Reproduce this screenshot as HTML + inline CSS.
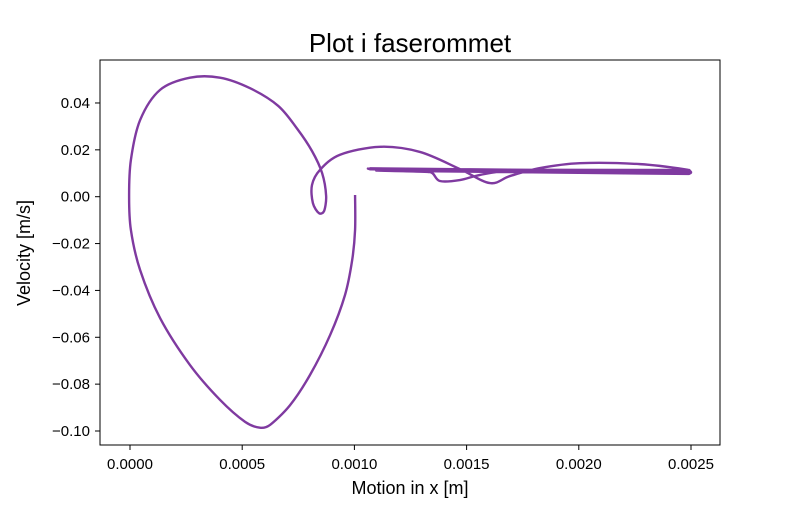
<!DOCTYPE html>
<html><head><meta charset="utf-8"><style>
body{margin:0;background:#fff;font-family:"Liberation Sans",sans-serif}
</style></head><body>
<svg width="800" height="500">
<rect width="800" height="500" fill="#fff"/>
<text x="410" y="52" font-size="26" text-anchor="middle" font-family="Liberation Sans">Plot i faserommet</text>
<g id="axes"></g>
<path id="curve" fill="none" stroke="#7f3aa0" stroke-width="2.4" stroke-linejoin="round"/>
<rect x="100" y="60" width="620" height="385" fill="none" stroke="#000" stroke-width="1"/>
<text x="410" y="494" font-size="18" text-anchor="middle">Motion in x [m]</text>
<text transform="translate(30,253) rotate(-90)" font-size="18" text-anchor="middle">Velocity [m/s]</text>
</svg>
<script>
const xTicks=[0,0.0005,0.001,0.0015,0.002,0.0025];
const xTickLabels=["0.0000","0.0005","0.0010","0.0015","0.0020","0.0025"];
const yTicks=[0.04,0.02,0,-0.02,-0.04,-0.06,-0.08,-0.10];
const yTickLabels=["0.04","0.02","0.00","−0.02","−0.04","−0.06","−0.08","−0.10"];
const xs=[0.001003,0.001003,0.00099,0.000958,0.000892,0.000802,0.000713,0.000624,0.000579,0.000513,0.000401,0.000267,0.000134,0.000045,0.000004,-0.000004,0.000004,0.000045,0.000134,0.000267,0.000401,0.000535,0.000660,0.000745,0.000811,0.000856,0.000874,0.000865,0.000842,0.000815,0.000811,0.000847,0.000936,0.001114,0.001292,0.00147,0.001604,0.001693,0.001827,0.002005,0.002273,0.00248,0.002495,0.00249,0.00107,0.00106,0.00107,0.002495,0.0025,0.00249,0.001114,0.001337,0.001381,0.00147,0.00156,0.001693,0.00249,0.002495,0.00249,0.00107,0.00107,0.00249,0.002495,0.00249,0.0012,0.0012,0.00249,0.002495,0.00249];
const ys=[0.0007,-0.0142,-0.0271,-0.0420,-0.0590,-0.0761,-0.0890,-0.0974,-0.0986,-0.0961,-0.0867,-0.0718,-0.0518,-0.0313,-0.0142,0.0003,0.0157,0.0327,0.0456,0.0508,0.0508,0.0463,0.0388,0.0290,0.0195,0.0101,0.0003,-0.0061,-0.0070,-0.0027,0.005,0.0115,0.0179,0.0213,0.0191,0.0118,0.0058,0.0088,0.0122,0.0143,0.0139,0.0116,0.0110,0.0106,0.0118,0.0120,0.0119,0.0100,0.0105,0.0112,0.0112,0.0105,0.0067,0.0071,0.0093,0.0110,0.0098,0.0104,0.0108,0.0121,0.0117,0.0102,0.0110,0.0114,0.0115,0.0110,0.0097,0.0101,0.0106];
const X=v=>130+v/0.0005*112.2;
const Y=v=>196.7-v/0.02*46.86;
const NS="http://www.w3.org/2000/svg";
const ax=document.getElementById('axes');
xTicks.forEach((t,i)=>{
 const l=document.createElementNS(NS,'line');
 
 
 l.setAttribute('x1',X(t));l.setAttribute('x2',X(t));l.setAttribute('y1',445);l.setAttribute('y2',450);l.setAttribute('stroke','#000');
 ax.appendChild(l);
 const tx=document.createElementNS(NS,'text');
 
 
 tx.setAttribute('x',X(t));tx.setAttribute('y',469);tx.setAttribute('font-size','15');tx.setAttribute('text-anchor','middle');
 tx.textContent=xTickLabels[i];ax.appendChild(tx);
});
yTicks.forEach((t,i)=>{
 const l=document.createElementNS(NS,'line');
 
 
 l.setAttribute('x1',95);l.setAttribute('x2',100);l.setAttribute('y1',Y(t));l.setAttribute('y2',Y(t));l.setAttribute('stroke','#000');
 ax.appendChild(l);
 const tx=document.createElementNS(NS,'text');
 
 
 tx.setAttribute('x',90);tx.setAttribute('y',Y(t)+5);tx.setAttribute('font-size','15');tx.setAttribute('text-anchor','end');
 tx.textContent=yTickLabels[i];ax.appendChild(tx);
});
const P=xs.map((x,i)=>[X(x),Y(ys[i])]);
const len=(a,b)=>Math.hypot(a[0]-b[0],a[1]-b[1]);
function tan(i){
 const p0=P[Math.max(0,i-1)],p2=P[Math.min(P.length-1,i+1)];
 let t=[(p2[0]-p0[0])/6,(p2[1]-p0[1])/6];
 const m=Math.min(i>0?len(P[i],P[i-1]):1e9,i<P.length-1?len(P[i],P[i+1]):1e9)*0.4;
 const L=Math.hypot(t[0],t[1]);
 if(L>m&&L>0){t=[t[0]*m/L,t[1]*m/L];}
 return t;
}
let d=`M${P[0][0]},${P[0][1]}`;
for(let i=0;i<P.length-1;i++){
 const t1=tan(i),t2=tan(i+1),p1=P[i],p2=P[i+1];
 d+=` C${p1[0]+t1[0]},${p1[1]+t1[1]} ${p2[0]-t2[0]},${p2[1]-t2[1]} ${p2[0]},${p2[1]}`;
}
document.getElementById('curve').setAttribute('d',d);
</script>
</body></html>
